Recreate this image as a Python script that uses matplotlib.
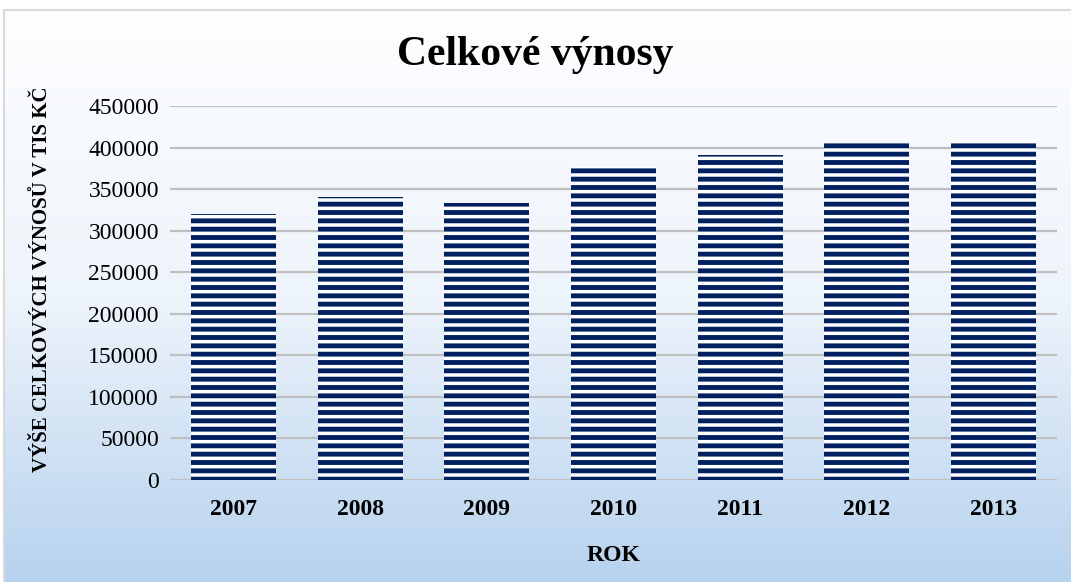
import numpy as np
import matplotlib
matplotlib.use('Agg')
import matplotlib.pyplot as plt
from matplotlib.colors import LinearSegmentedColormap
from matplotlib.lines import Line2D

# data
years = ['2007', '2008', '2009', '2010', '2011', '2012', '2013']
vynosy = [320000, 341000, 333000, 377000, 391000, 405000, 409000]
yticks = [0, 50000, 100000, 150000, 200000, 250000, 300000, 350000, 400000, 450000]

navy = '#002060'
plt.rcParams['font.family'] = ['Liberation Serif', 'DejaVu Serif']
plt.rcParams['hatch.linewidth'] = 3.5

W, H = 1071, 582
fig = plt.figure(figsize=(W / 100, H / 100), dpi=100, facecolor='white')

# gradient chart area background
x0, ytop = 4 / W, 1 - 10 / H
bg = fig.add_axes([x0, 0, 1 - x0, ytop], zorder=-5)
grad = np.linspace(0, 1, 256).reshape(-1, 1)
cmap = LinearSegmentedColormap.from_list('bg', ['#fdfeff', '#eef4fb', '#b7d2ee'])
bg.imshow(grad, aspect='auto', cmap=cmap, extent=[0, 1, 0, 1], origin='upper')
bg.axis('off')
fig.add_artist(Line2D([x0, 1], [ytop, ytop], color='#d9d9d9', lw=1.5, transform=fig.transFigure))
fig.add_artist(Line2D([x0, x0], [0, ytop], color='#d9d9d9', lw=1.5, transform=fig.transFigure))

ax = fig.add_axes([170 / W, 1 - 480 / H, (1057 - 170) / W, (480 - 106) / H])
ax.patch.set_alpha(0)

x = np.arange(len(years))
ax.bar(x, vynosy, width=0.67, color='white', edgecolor=navy, linewidth=0, hatch='--', zorder=3)

ax.set_ylim(0, 450000)
ax.set_xlim(-0.5, len(years) - 0.5)
ax.set_yticks(yticks)
ax.set_yticklabels([str(v) for v in yticks], fontsize=17)
ax.set_xticks(x)
ax.set_xticklabels(years, fontsize=17, fontweight='bold')
ax.tick_params(length=0, pad=8)
ax.tick_params(axis='x', pad=14)
ax.grid(axis='y', color='#bfbfbf', lw=1.6, zorder=0)
ax.set_axisbelow(True)
for s in ax.spines.values():
    s.set_visible(False)

ax.set_xlabel('ROK', fontsize=17, fontweight='bold', labelpad=18)
ax.set_ylabel('VÝŠE CELKOVÝCH VÝNOSŮ V TIS KČ', fontsize=15, fontweight='bold')
ax.yaxis.set_label_coords(-118 / (1057 - 170), 0.537)

fig.text(0.5, 1 - 55 / H, 'Celkové výnosy', fontsize=30, fontweight='bold', ha='center', va='center')

fig.savefig('out.png', dpi=100)
